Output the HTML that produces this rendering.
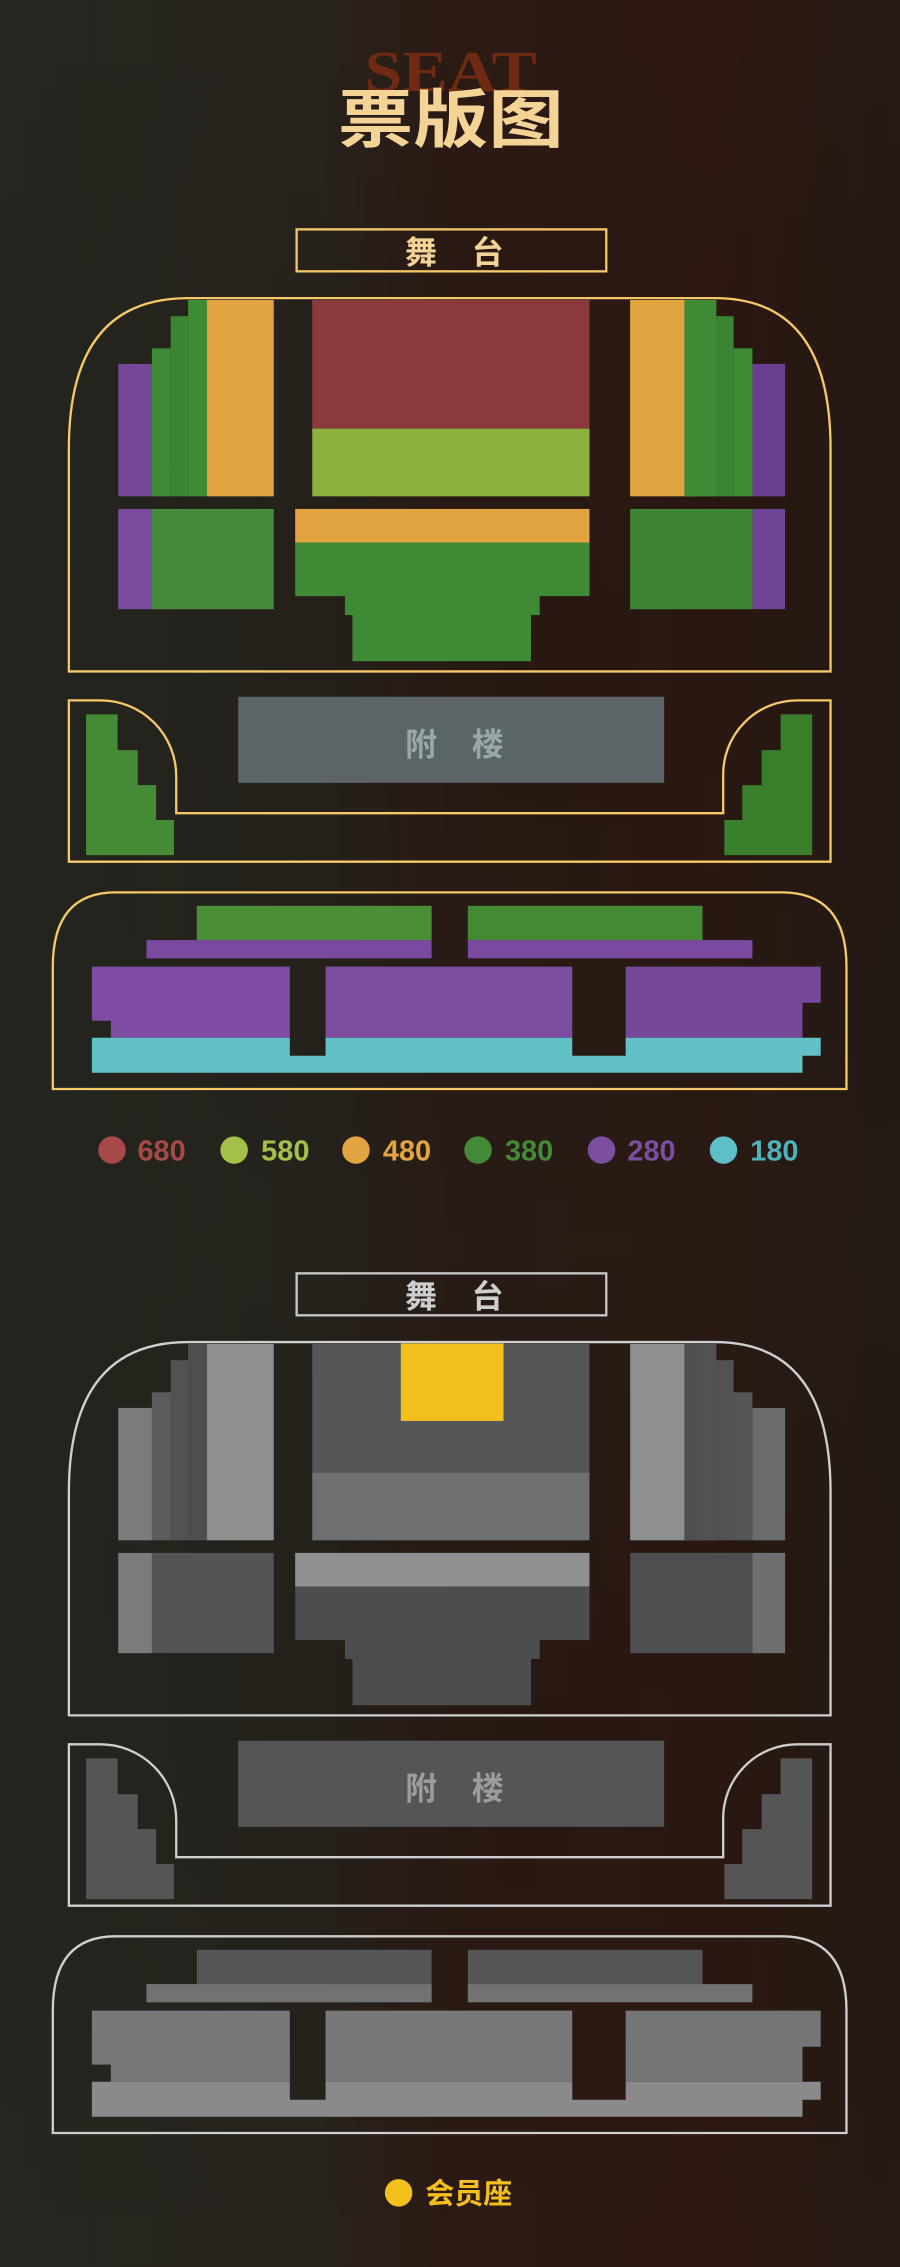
<!DOCTYPE html>
<html><head><meta charset="utf-8">
<style>
html,body{margin:0;padding:0;width:900px;height:2267px;overflow:hidden;background:#2a1a14}
svg{display:block}
.cjk{font-family:"Liberation Sans","Noto Sans CJK SC","WenQuanYi Zen Hei",sans-serif;font-weight:bold}
</style></head><body>
<svg width="900" height="2267" viewBox="0 0 622 1566.7" xmlns="http://www.w3.org/2000/svg">
<defs>
<linearGradient id="bg" x1="0" y1="0" x2="1" y2="0">
<stop offset="0" stop-color="#262821"/>
<stop offset="0.35" stop-color="#28231c"/>
<stop offset="0.5" stop-color="#2c1a14"/>
<stop offset="0.8" stop-color="#2e1812"/>
<stop offset="1" stop-color="#261a15"/>
</linearGradient>
<linearGradient id="bgv" x1="0" y1="0" x2="0" y2="1">
<stop offset="0" stop-color="#000" stop-opacity="0"/>
<stop offset="0.55" stop-color="#1c201a" stop-opacity="0.25"/>
<stop offset="1" stop-color="#000" stop-opacity="0"/>
</linearGradient>
</defs>
<rect width="622" height="1566.7" fill="url(#bg)"/>
<rect width="622" height="1566.7" fill="url(#bgv)"/>

<!-- Title -->
<text x="311.5" y="63" text-anchor="middle" font-family="Liberation Serif,serif" font-weight="bold" font-size="40" fill="#6e2a12" textLength="119" lengthAdjust="spacingAndGlyphs">SEAT</text>
<text x="311.5" y="98" text-anchor="middle" class="cjk" font-size="44" fill="#f3d496" textLength="156" lengthAdjust="spacingAndGlyphs">票版图</text>

<!-- ================= TOP (colored) ================= -->
<g>
<rect x="205" y="158.5" width="214" height="29" fill="none" stroke="#f5c86a" stroke-width="1.6"/>
<text x="280" y="182" class="cjk" font-size="22" fill="#f3d496">舞</text>
<text x="326" y="182" class="cjk" font-size="22" fill="#f3d496">台</text>

<path d="M47.6,464 V310 Q47.6,206 130,206 H494 Q574,206 574,310 V464 Z" fill="none" stroke="#f5c86a" stroke-width="1.6"/>
<!-- left upper -->
<rect x="81.7" y="251.5" width="23.3" height="91.5" fill="#75489a"/>
<rect x="105" y="240.7" width="13" height="102.3" fill="#3f8a35"/>
<rect x="118" y="218.5" width="12" height="124.5" fill="#3b8532"/>
<rect x="130" y="207.3" width="13" height="135.7" fill="#3f8a35"/>
<rect x="143" y="207.3" width="46.2" height="135.7" fill="#e2a440"/>
<!-- center -->
<rect x="215.8" y="207.3" width="191.6" height="88.9" fill="#8a3a3b"/>
<rect x="215.8" y="296.2" width="191.6" height="46.8" fill="#8db13e"/>
<!-- right upper -->
<rect x="435.5" y="207.3" width="46.5" height="135.7" fill="#e2a440"/>
<rect x="473" y="207.3" width="22" height="135.7" fill="#3f8a35"/>
<rect x="482" y="207.3" width="13" height="135.7" fill="#3f8a35"/>
<rect x="495" y="218.5" width="12" height="124.5" fill="#3b8532"/>
<rect x="507" y="240.7" width="13" height="102.3" fill="#3f8a35"/>
<rect x="520" y="251.5" width="22.6" height="91.5" fill="#6a3f92"/>
<!-- lower row -->
<rect x="81.7" y="351.7" width="23.3" height="69.3" fill="#7a4ca0"/>
<rect x="105" y="351.7" width="84.2" height="69.3" fill="#458a3a"/>
<rect x="204" y="351.7" width="203.4" height="23.3" fill="#e2a440"/>
<path d="M204,375 H407.4 V412 H373 V425 H367 V457 H243.6 V425 H238.4 V412 H204 Z" fill="#3f8a35"/>
<rect x="435.5" y="351.7" width="84.5" height="69.3" fill="#3d8535"/>
<rect x="520" y="351.7" width="22.6" height="69.3" fill="#6e4596"/>

<!-- annex -->
<path d="M47.6,484 H69.4 A52.4,52.4 0 0 1 121.8,536.4 V562 H499.8 V536.4 A51.2,51.2 0 0 1 551,484 H574 V595.5 H47.6 Z" fill="none" stroke="#f5c86a" stroke-width="1.6"/>
<rect x="164.6" y="481.5" width="294.4" height="59.5" fill="#5b6568"/>
<text x="280" y="522" class="cjk" font-size="22" fill="#9aa7a9">附</text>
<text x="326" y="522" class="cjk" font-size="22" fill="#9aa7a9">楼</text>
<path d="M59.5,493.7 H81.3 V518.4 H95.2 V542.6 H107.9 V566.7 H120.2 V591 H59.5 Z" fill="#458a35"/>
<path d="M561.3,493.7 H539.5 V518.4 H526.4 V542.6 H513 V566.7 H500.6 V591 H561.3 Z" fill="#3a7f2c"/>

<!-- balcony -->
<path d="M36.5,752.6 V668 Q36.5,616.7 80,616.7 H540 Q585,616.7 585,668 V752.6 Z" fill="none" stroke="#f5c86a" stroke-width="1.6"/>
<rect x="136" y="626" width="162.3" height="23.7" fill="#4a8f35"/>
<rect x="323.3" y="626" width="162.2" height="23.7" fill="#438a33"/>
<rect x="101.2" y="649.7" width="197.1" height="12.6" fill="#7a4aa0"/>
<rect x="323.3" y="649.7" width="196.7" height="12.6" fill="#7a4aa0"/>
<path d="M63.5,668 H200.3 V717.2 H76.6 V705.4 H63.5 Z" fill="#7e4ca2"/>
<rect x="225" y="668" width="170.5" height="49.2" fill="#7c4ca0"/>
<path d="M432.4,668 H567.2 V693 H554.6 V717.2 H432.4 Z" fill="#764898"/>
<path d="M63.5,717.2 H200.3 V729.6 H225 V717.2 H395.5 V729.6 H432.4 V717.2 H567.2 V729.6 H554.6 V741.4 H63.5 Z" fill="#62c1c7"/>

<!-- legend -->
<g class="cjk" font-size="20">
<ellipse cx="77.4" cy="794.8" rx="9.5" ry="9.5" fill="#a54a48"/><text x="95" y="802" fill="#a54a48">680</text>
<ellipse cx="161.8" cy="794.8" rx="9.5" ry="9.5" fill="#a3c049"/><text x="180.5" y="802" fill="#a3c049">580</text>
<ellipse cx="246" cy="794.8" rx="9.5" ry="9.5" fill="#e2a440"/><text x="264.6" y="802" fill="#e2a440">480</text>
<ellipse cx="330.4" cy="794.8" rx="9.5" ry="9.5" fill="#438a38"/><text x="349" y="802" fill="#438a38">380</text>
<ellipse cx="415.7" cy="794.8" rx="9.5" ry="9.5" fill="#7c4ea0"/><text x="433.6" y="802" fill="#7c4ea0">280</text>
<ellipse cx="500" cy="794.8" rx="9.5" ry="9.5" fill="#5fbfc9"/><text x="518.5" y="802" fill="#4fb3bd">180</text>
</g>
</g>

<!-- ================= BOTTOM (grey) ================= -->
<g transform="translate(0,721.5)">
<rect x="205" y="158.5" width="214" height="29" fill="none" stroke="#c8c8c8" stroke-width="1.6"/>
<text x="280" y="182" class="cjk" font-size="22" fill="#cfcfcf">舞</text>
<text x="326" y="182" class="cjk" font-size="22" fill="#cfcfcf">台</text>

<path d="M47.6,464 V310 Q47.6,206 130,206 H494 Q574,206 574,310 V464 Z" fill="none" stroke="#cfcfcf" stroke-width="1.6"/>
<rect x="81.7" y="251.5" width="23.3" height="91.5" fill="#7b7b7b"/>
<rect x="105" y="240.7" width="13" height="102.3" fill="#5c5c5c"/>
<rect x="118" y="218.5" width="12" height="124.5" fill="#525252"/>
<rect x="130" y="207.3" width="13" height="135.7" fill="#4e4e4e"/>
<rect x="143" y="207.3" width="46.2" height="135.7" fill="#8e8f8f"/>
<rect x="215.8" y="207.3" width="191.6" height="88.9" fill="#555658"/>
<rect x="215.8" y="296.2" width="191.6" height="46.8" fill="#6f7071"/>
<rect x="435.5" y="207.3" width="46.5" height="135.7" fill="#8e8f8f"/>
<rect x="473" y="207.3" width="22" height="135.7" fill="#4e4e4e"/>
<rect x="482" y="207.3" width="13" height="135.7" fill="#525252"/>
<rect x="495" y="218.5" width="12" height="124.5" fill="#525252"/>
<rect x="507" y="240.7" width="13" height="102.3" fill="#555"/>
<rect x="520" y="251.5" width="22.6" height="91.5" fill="#6a6b6b"/>
<rect x="81.7" y="351.7" width="23.3" height="69.3" fill="#7b7b7b"/>
<rect x="105" y="351.7" width="84.2" height="69.3" fill="#545454"/>
<rect x="204" y="351.7" width="203.4" height="23.3" fill="#8f9090"/>
<path d="M204,375 H407.4 V412 H373 V425 H367 V457 H243.6 V425 H238.4 V412 H204 Z" fill="#4c4d4e"/>
<rect x="435.5" y="351.7" width="84.5" height="69.3" fill="#4c4e4f"/>
<rect x="520" y="351.7" width="22.6" height="69.3" fill="#6e6f6f"/>
<rect x="277" y="207" width="71" height="53.5" fill="#f2bf1d"/>

<path d="M47.6,484 H69.4 A52.4,52.4 0 0 1 121.8,536.4 V562 H499.8 V536.4 A51.2,51.2 0 0 1 551,484 H574 V595.5 H47.6 Z" fill="none" stroke="#cfcfcf" stroke-width="1.6"/>
<rect x="164.6" y="481.5" width="294.4" height="59.5" fill="#555556"/>
<text x="280" y="522" class="cjk" font-size="22" fill="#9c9c9c">附</text>
<text x="326" y="522" class="cjk" font-size="22" fill="#9c9c9c">楼</text>
<path d="M59.5,493.7 H81.3 V518.4 H95.2 V542.6 H107.9 V566.7 H120.2 V591 H59.5 Z" fill="#555"/>
<path d="M561.3,493.7 H539.5 V518.4 H526.4 V542.6 H513 V566.7 H500.6 V591 H561.3 Z" fill="#555"/>

<path d="M36.5,752.6 V668 Q36.5,616.7 80,616.7 H540 Q585,616.7 585,668 V752.6 Z" fill="none" stroke="#cfcfcf" stroke-width="1.6"/>
<rect x="136" y="626" width="162.3" height="23.7" fill="#555657"/>
<rect x="323.3" y="626" width="162.2" height="23.7" fill="#555657"/>
<rect x="101.2" y="649.7" width="197.1" height="12.6" fill="#717272"/>
<rect x="323.3" y="649.7" width="196.7" height="12.6" fill="#717272"/>
<path d="M63.5,668 H200.3 V717.2 H76.6 V705.4 H63.5 Z" fill="#787878"/>
<rect x="225" y="668" width="170.5" height="49.2" fill="#787878"/>
<path d="M432.4,668 H567.2 V693 H554.6 V717.2 H432.4 Z" fill="#747575"/>
<path d="M63.5,717.2 H200.3 V729.6 H225 V717.2 H395.5 V729.6 H432.4 V717.2 H567.2 V729.6 H554.6 V741.4 H63.5 Z" fill="#8a8a8a"/>
</g>

<!-- member legend -->
<ellipse cx="275.5" cy="1515.5" rx="9.5" ry="9.5" fill="#f2bf1d"/>
<text x="294" y="1523" class="cjk" font-size="20" fill="#f2bf1d">会员座</text>
</svg>
</body></html>
